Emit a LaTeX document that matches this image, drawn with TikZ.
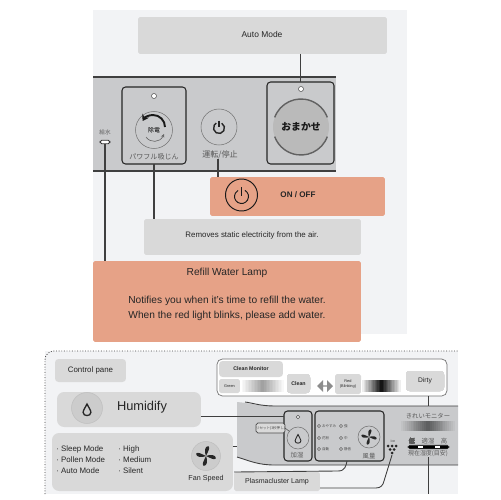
\documentclass[tikz,border=0pt]{standalone}
\usepackage{fontspec}
\setmainfont{Liberation Sans}
\newfontfamily\jpfont{Noto Sans CJK JP}
\usetikzlibrary{calc, positioning, arrows.meta, shapes.arrows}
\definecolor{pagegray}{HTML}{F2F3F5}
\definecolor{boxgray}{HTML}{D9D9D9}
\definecolor{salmon}{HTML}{E6A287}
\definecolor{devgray}{HTML}{C9CACC}
\definecolor{wiregray}{HTML}{3F3F3F}
% soft strip: left end, width, top, height, darkest value in the middle
\newcommand{\smudge}[5]{
    \foreach \i in {0,...,29} {
        \pgfmathsetmacro\tone{#5*(1-abs(\i-14.5)/14.5)}
        \pgfmathsetmacro\slab{#1+#2*\i/30}
        \fill[black!\tone!#3] (\slab,#4) rectangle ++(#2/30+.3,1);
    }
}

\begin{document}
\begin{tikzpicture}[
        x=0.02cm, y=-0.02cm,
        greybox/.style={rectangle, fill=boxgray, rounded corners=1pt, inner sep=0pt, outer sep=0pt, text=black!85},
        redbox/.style={greybox, fill=salmon},
        btnbox/.style={rectangle, draw=black!85, line width=.6pt, rounded corners=2pt, inner sep=0pt, outer sep=0pt},
        dial/.style={circle, draw=black!55, line width=.3pt, fill=devgray, inner sep=0pt, outer sep=0pt},
        led/.style={circle, draw=black!70, line width=.3pt, fill=white, minimum size=.1cm, inner sep=0pt},
        wire/.style={draw=wiregray, line width=.7pt},
        jp/.style={font=\jpfont\fontsize{3.6}{4}\selectfont, text=black!65, inner sep=0pt},
        tiny/.style={font=\jpfont\fontsize{2}{2.4}\selectfont, text=black!70, inner sep=0pt},
        pics/powersym/.style={code={
            \draw (.5,-.866) arc (-60:240:1);
            \draw (0,-1.35) -- (0,-.1);
        }},
        pics/dropsym/.style={code={
            \draw (0,-1) .. controls (-.2,-.5) and (-.65,0) .. (-.65,.4)
                .. controls (-.65,1.1) and (.65,1.1) .. (.65,.4)
                .. controls (.65,0) and (.2,-.5) .. (0,-1) -- cycle;
        }},
        pics/fansym/.style={code={
            \foreach \a in {35,125,215,305}
                \fill[rotate=\a] (0,0) .. controls (.1,-.5) and (.5,-1) .. (.85,-.75)
                    .. controls (.95,-.45) and (.4,-.25) .. (0,0);
        }}
    ]
    \useasboundingbox (0,0) rectangle (500,500);

    % upper sheet
    \fill[pagegray] (93,10) rectangle (407,334);
    \fill[devgray] (93,77) rectangle (336,171);
    \draw[wire] (93,77) -- (336,77);
    \draw[wire] (93,171) -- (336,171);

    \node[greybox, minimum width=4.98cm, minimum height=.74cm] (automode) at (262.5,35.5) {};
    \node[font=\fontsize{4.8}{6}\selectfont, text=black!85, inner sep=0pt] (autolab) at (262,34) {Auto Mode};

    \node[btnbox, minimum width=1.34cm, minimum height=1.64cm] (autobtn) at (300.5,123) {};
    \node[led] (autoled) at (301,89) {};
    \node[circle, fill=black!27, minimum size=1.12cm, inner sep=0pt, font=\jpfont\bfseries\fontsize{5.6}{7}\selectfont, text=black!90] (autodial) at (301,127) {おまかせ};
    \draw[black!62, line width=.8pt] (301,127) ++(20:28) arc (20:160:28);
    \draw[black!62, line width=.8pt] (301,127) ++(200:28) arc (200:340:28);

    \node[btnbox, minimum width=1.28cm, minimum height=1.54cm] (dustbtn) at (154,125.5) {};
    \node[led] (dustled) at (154,96) {};
    \node[dial, minimum size=.74cm, font=\jpfont\fontsize{3.4}{4}\selectfont] (dustdial) at (154,130) {除電};
    \draw[black!90, line width=1.1pt, -{Stealth[length=3.5pt, width=4.5pt]}] (165,127) arc (0:-150:12);
    \draw[black!60, line width=.35pt, -{Stealth[length=2pt, width=2pt]}] (146,137) .. controls (150,143) and (160,143) .. (164,134);
    \node[jp, font=\jpfont\fontsize{4}{5}\selectfont] (dustlab) at (154,157) {パワフル吸じん};

    \node[dial, minimum size=.72cm] (powerdial) at (219,127) {};
    \pic[scale=5.5, line width=.8pt, black!85] at (219,128) {powersym};
    \node[jp, font=\jpfont\fontsize{4.6}{5}\selectfont] (powerlab) at (220,155) {運転/停止};

    \node[jp, font=\jpfont\fontsize{3.2}{4}\selectfont] (waterlab) at (105,132) {給水};
    \node[rectangle, draw=black!80, fill=white, line width=.5pt, rounded corners=1pt, minimum width=.2cm, minimum height=.07cm, inner sep=0pt, outer sep=0pt] (waterlamp) at (105,142) {};

    \node[redbox, minimum width=3.5cm, minimum height=.78cm] (onoff) at (297.5,196.5) {};
    \node[font=\bfseries\fontsize{4.6}{6}\selectfont, text=black!85, inner sep=0pt] (onofflab) at (298,195) {ON / OFF};
    \node[circle, draw=black!90, line width=.55pt, minimum size=.64cm, inner sep=0pt] (onoffring) at (241.5,195) {};
    \pic[scale=7, line width=.55pt, black!90] at (241.5,196.5) {powersym};

    \node[greybox, minimum width=4.34cm, minimum height=.72cm] (static) at (252.5,237) {};
    \node[font=\fontsize{4.5}{6}\selectfont, text=black!85, inner sep=0pt] (staticlab) at (252,235) {Removes static electricity from the air.};

    \node[redbox, minimum width=5.36cm, minimum height=1.62cm] (refill) at (227,301.5) {};
    \node[font=\fontsize{5.8}{8.5}\selectfont, text=black!85, align=center, inner sep=0pt] (refilllab) at (227,294.5) {Refill Water Lamp\\[7.4pt]Notifies you when it's time to refill the water.\\When the red light blinks, please add water.};

    \draw[wire] (automode.south -| autobtn) -- (autobtn.north);
    \draw[wire] (waterlamp.south) -- (waterlamp.south |- refill.north);
    \draw[wire] (dustbtn.south) -- (dustbtn.south |- static.north);
    \draw[wire] (powerlab.south -| 218,0) -- (218,0 |- onoff.north);

    % lower sheet
    \fill[pagegray] (45,351) rectangle (458,494);
    \draw[black!75, densely dotted, line width=.5pt, rounded corners=5pt] (45,494) -- (45,351) -- (458,351);

    \node[greybox, minimum width=1.42cm, minimum height=.46cm, rounded corners=2pt, font=\fontsize{4.5}{6}\selectfont] (ctrlpane) at (90.5,370.5) {Control pane};

    % device strip
    \fill[devgray] (237,402) .. controls (250,403) and (258,406) .. (275,406) -- (458,406) -- (458,465)
        -- (275,465) .. controls (258,465) and (250,461) .. (237,457) -- cycle;
    \draw[wire, line width=.5pt] (245,402) .. controls (253,403) and (260,406) .. (275,406) -- (458,406);
    \draw[wire, line width=.5pt] (237,457) .. controls (250,461) and (258,465) .. (275,465) -- (458,465);

    \node[greybox, minimum width=2.88cm, minimum height=.7cm, rounded corners=4pt] (humidify) at (129,409.5) {};
    \node[font=\fontsize{7.3}{9}\selectfont, text=black!85, inner sep=0pt] (humidifylab) at (142,407) {Humidify};
    \node[dial, draw=black!25, fill=black!20, minimum size=.62cm] (humdial) at (87,408) {};
    \pic[scale=6, line width=.75pt, black!85] at (87,410) {dropsym};

    \node[greybox, minimum width=3.62cm, minimum height=1.16cm, rounded corners=4pt] (modes) at (142.5,462) {};
    \node[anchor=west, align=left, font=\fontsize{4.5}{6.3}\selectfont, text=black!85, inner sep=0pt] (modelist) at (56,460) {· Sleep Mode\\· Pollen Mode\\· Auto Mode};
    \node[anchor=west, align=left, font=\fontsize{4.5}{6.3}\selectfont, text=black!85, inner sep=0pt] (speedlist) at (118,460) {· High\\· Medium\\· Silent};
    \node[dial, draw=black!25, fill=black!20, minimum size=.58cm] (fandial) at (206,456) {};
    \pic[scale=9, black!85] at (206,456) {fansym};
    \node[font=\fontsize{4.1}{5}\selectfont, text=black!85, inner sep=0pt] (fanlab) at (206,479) {Fan Speed};

    % clean monitor legend
    \node[rectangle, draw=black!55, fill=white, line width=.4pt, rounded corners=3pt, minimum width=4.6cm, minimum height=.74cm, inner sep=0pt, outer sep=0pt] (legend) at (332,377.5) {};
    \node[greybox, minimum width=1.28cm, minimum height=.32cm, rounded corners=2pt, font=\bfseries\fontsize{3}{4}\selectfont] (cleanmon) at (251,369) {Clean Monitor};
    \node[greybox, minimum width=.42cm, minimum height=.28cm, font=\fontsize{2.2}{3}\selectfont] (green) at (229.5,386) {Green};
    \foreach \rw in {380,...,391}
        \smudge{240}{45}{white}{\rw}{38}
    \node[greybox, minimum width=.46cm, minimum height=.38cm, rounded corners=2pt, font=\bfseries\fontsize{3}{4}\selectfont] (clean) at (298.5,383.5) {Clean};
    \node[double arrow, double arrow head extend=.06cm, fill=black!45, minimum width=.24cm, minimum height=.32cm, inner sep=0pt] (swap) at (325,386) {};
    \node[greybox, minimum width=.52cm, minimum height=.4cm, align=center, font=\fontsize{2.2}{3}\selectfont] (red) at (348,384) {Red\\(Blinking)};
    \foreach \rw in {380,...,391}
        \smudge{361}{41}{white}{\rw}{95}
    \node[greybox, minimum width=.76cm, minimum height=.4cm, rounded corners=2pt, font=\fontsize{3.8}{4}\selectfont] (dirty) at (425,381) {Dirty};

    % buttons on the strip
    \node[btnbox, minimum width=.56cm, minimum height=1cm] (humbtn) at (298,436) {};
    \node[led, minimum size=.07cm] (humled) at (298,417) {};
    \node[dial, minimum size=.44cm] (humdial2) at (298,438) {};
    \pic[scale=4.5, line width=.5pt, black!85] at (298,439) {dropsym};
    \node[jp] (humlab) at (297,455) {加湿};
    \node[rectangle, draw=black!70, fill=boxgray, line width=.4pt, rounded corners=1pt, minimum width=.58cm, minimum height=.2cm, inner sep=0pt, outer sep=0pt, font=\jpfont\fontsize{2}{2.4}\selectfont, text=black!70] (reset) at (270.5,428) {リセット(3秒押し)};
    \draw[black!70, line width=.3pt] (reset.east) -- (humdial2);

    \node[btnbox, minimum width=1.38cm, minimum height=1cm] (modebtn) at (349.5,436) {};
    \foreach \nm/\xx/\yy in {おやすみ/319/426, 花粉/319/438, 自動/319/449, 強/341/426, 中/341/438, 静音/341/449}
        \node[circle, draw=black!70, fill=white, line width=.25pt, minimum size=.06cm, inner sep=0pt, label={[tiny, label distance=.02cm]right:\nm}] at (\xx,\yy) {};
    \node[dial, minimum size=.44cm] (speeddial) at (369,437) {};
    \pic[scale=7, black!85] at (369,437) {fansym};
    \node[jp] (speedlab) at (369,456) {風量};

    \node[font=\fontsize{2}{2.4}\selectfont, text=black!70, inner sep=0pt] (ionlab) at (393,441) {Ion};
    \foreach \xx/\yy in {388/446, 392/446, 396/446, 390/449.5, 394/449.5, 392/453}
        \fill[black!85] (\xx,\yy) circle (1.5);
    \coordinate (ionlamp) at (392,455);

    \node[jp, font=\jpfont\fontsize{3.6}{4}\selectfont] (monitorlab) at (428,416) {きれいモニター};
    \foreach \rw in {421,...,430}
        \smudge{399}{58}{devgray}{\rw}{55}
    \node[jp] (lowlab) at (412,441) {低};
    \node[jp] (midlab) at (428,441) {適湿};
    \node[jp] (highlab) at (444,441) {高};
    \node[rectangle, draw=black!85, fill=black, line width=.3pt, rounded corners=1pt, minimum width=.82cm, minimum height=.07cm, inner sep=0pt, outer sep=0pt] (humbar) at (428.5,447) {};
    \fill[white] (418,446) rectangle (423,448);
    \fill[white] (435,446) rectangle (440,448);
    \node[jp, font=\jpfont\fontsize{3.4}{4}\selectfont] (nowlab) at (428,454) {現在湿度(目安)};

    \node[greybox, minimum width=1.72cm, minimum height=.38cm, rounded corners=1pt, font=\fontsize{4}{5}\selectfont] (plasma) at (277,481.5) {Plasmacluster Lamp};

    \coordinate (humjoin) at (284,416);
    \coordinate (fanjoin) at (237,446);
    \coordinate (nowend) at (428,494);
    \draw[wire, line width=.5pt] (humidify.east |- humjoin) -- (humjoin);
    \draw[wire, line width=.5pt] (modes.east |- fanjoin) -- (fanjoin);
    \draw[wire, line width=.5pt] (dirty.south |- legend.south) ++(3,0) -- (428,406);
    \draw[wire, line width=.5pt] (nowlab.south) -- (nowend);
    \draw[wire, line width=.5pt] (plasma.north west) -- (338,471) .. controls (345,471) and (346,466) .. (347,461);
    \draw[wire, line width=.5pt] (320,488) -- (376,488) .. controls (381,488) and (383,485) .. (384,481) -- (ionlamp);
    \end{tikzpicture}
\end{document}
